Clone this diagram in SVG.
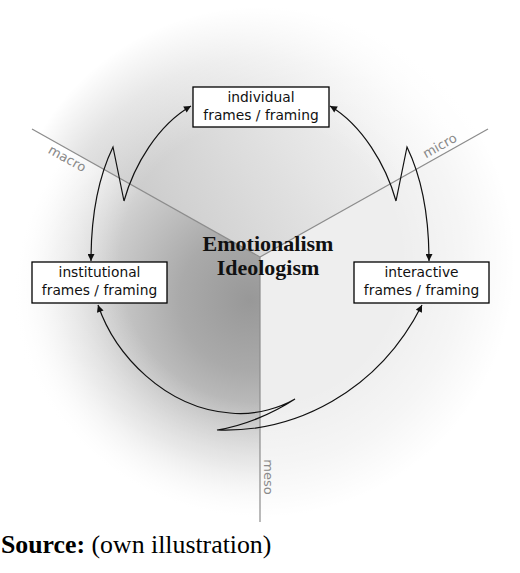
<svg xmlns="http://www.w3.org/2000/svg" width="520" height="573" viewBox="0 0 520 573">
  <style>
    .box { fill: #ffffff; stroke: #000000; stroke-width: 1.3; }
    .boxtext { font-family: "DejaVu Sans", "Liberation Sans", sans-serif; font-size: 13.8px; fill: #111111; text-anchor: middle; }
    .axis { stroke: #8c8c8c; stroke-width: 1.2; fill: none; }
    .axislabel { font-family: "DejaVu Sans", "Liberation Sans", sans-serif; font-size: 13px; fill: #8a8a8a; text-anchor: middle; }
    .conn { fill: none; stroke: #111111; stroke-width: 1.2; stroke-linejoin: miter; marker-start: url(#arrow); marker-end: url(#arrow); }
    .center { font-family: "Liberation Serif", "Times New Roman", serif; font-size: 22px; font-weight: bold; fill: #111111; text-anchor: middle; }
    .source { font-family: "Liberation Serif", "Times New Roman", serif; font-size: 25.8px; fill: #000000; }
  </style>
  <defs>
    <marker id="arrow" viewBox="0 0 10 10" refX="10" refY="5" markerUnits="userSpaceOnUse" markerWidth="8" markerHeight="7" orient="auto-start-reverse">
      <path d="M0,0 L10,5 L0,10 z" fill="#111111"/>
    </marker>
    <radialGradient id="gLeft" gradientUnits="userSpaceOnUse" cx="250" cy="300" r="235">
      <stop offset="0" stop-color="#989898"/>
      <stop offset="0.3" stop-color="#aaaaaa"/>
      <stop offset="0.6" stop-color="#cbcbcb"/>
      <stop offset="0.85" stop-color="#eaeaea"/>
      <stop offset="1" stop-color="#ffffff"/>
    </radialGradient>
    <linearGradient id="gTop" gradientUnits="userSpaceOnUse" x1="140" y1="250" x2="420" y2="80">
      <stop offset="0" stop-color="#c8c8c8"/>
      <stop offset="1" stop-color="#fafafa"/>
    </linearGradient>
    <radialGradient id="gFade" gradientUnits="userSpaceOnUse" cx="260" cy="262" r="255">
      <stop offset="0" stop-color="#ffffff" stop-opacity="0"/>
      <stop offset="0.55" stop-color="#ffffff" stop-opacity="0"/>
      <stop offset="0.8" stop-color="#ffffff" stop-opacity="0.45"/>
      <stop offset="1" stop-color="#ffffff" stop-opacity="1"/>
    </radialGradient>
  </defs>

  <rect x="0" y="0" width="520" height="573" fill="#ffffff"/>

  <g id="background">
    <polygon points="260,257 -100,55 -100,700 260,700" fill="url(#gLeft)"/>
    <polygon points="260,257 -100,55 -100,-100 620,-100 620,55" fill="url(#gTop)"/>
    <polygon points="260,257 620,55 620,700 260,700" fill="#eeeeee"/>
    <rect x="0" y="0" width="520" height="573" fill="url(#gFade)"/>
    <rect x="0" y="522" width="520" height="51" fill="#ffffff"/>
  </g>

  <g id="axes">
    <line class="axis" x1="32" y1="129" x2="260" y2="257"/>
    <line class="axis" x1="488" y1="129" x2="260" y2="257"/>
    <line class="axis" x1="260" y1="257" x2="260" y2="522"/>
    <text class="axislabel" transform="translate(67,159) rotate(29.3)" y="4">macro</text>
    <text class="axislabel" transform="translate(440,146) rotate(-29.3)" y="4">micro</text>
    <text class="axislabel" transform="translate(268,477) rotate(90)" y="4">meso</text>
  </g>

  <g id="connectors">
    <path class="conn" d="M91,261 C91,212 99,176 113,147 L124,201 C134,165 158,125 191,106"/>
    <path class="conn" d="M429,261 C429,212 421,176 407,147 L396,201 C386,165 362,125 330,106"/>
    <path class="conn" d="M98,305 C115,355 165,408 230,413 C258,416 283,406 295,399 C272,414 243,426 217,430 C295,433 378,392 422,305"/>
  </g>

  <g id="node-individual">
    <rect class="box" x="193" y="87" width="136" height="40"/>
    <text class="boxtext" x="261" y="102">individual</text>
    <text class="boxtext" x="261" y="120">frames / framing</text>
  </g>

  <g id="node-institutional">
    <rect class="box" x="32" y="262" width="135" height="41"/>
    <text class="boxtext" x="99.5" y="277">institutional</text>
    <text class="boxtext" x="99.5" y="295">frames / framing</text>
  </g>

  <g id="node-interactive">
    <rect class="box" x="354" y="262" width="135" height="41"/>
    <text class="boxtext" x="421.5" y="277">interactive</text>
    <text class="boxtext" x="421.5" y="295">frames / framing</text>
  </g>

  <g id="center-label">
    <text class="center" x="268" y="251">Emotionalism</text>
    <text class="center" x="268" y="275">Ideologism</text>
  </g>

  <text class="source" x="1" y="553"><tspan font-weight="bold">Source:</tspan> (own illustration)</text>
</svg>
